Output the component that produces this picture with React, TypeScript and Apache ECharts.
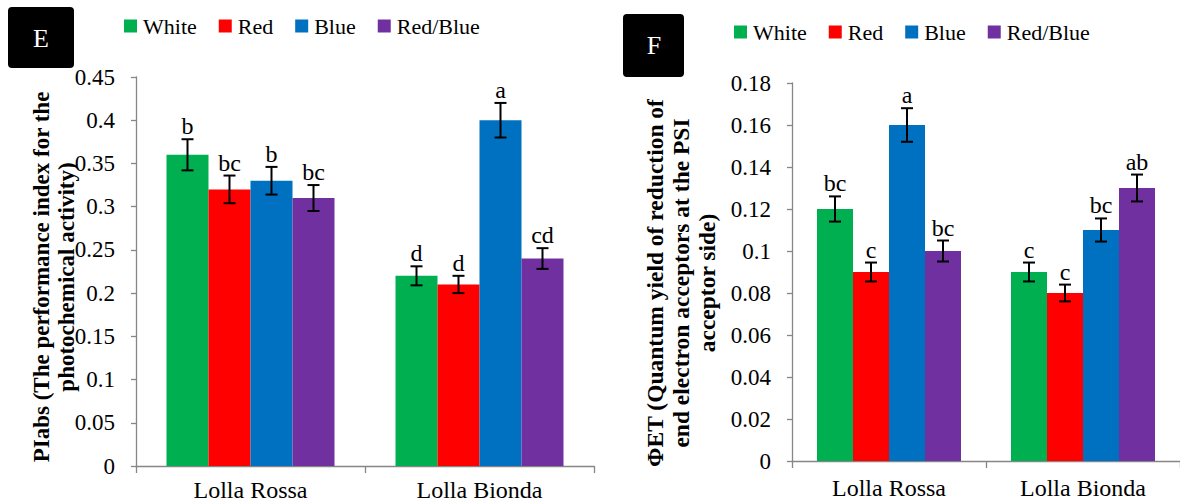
import React, { useEffect, useRef } from "react";
import * as echarts from "echarts";

const categories = ["Lolla Rossa", "Lolla Bionda"];
const treatments = ["White", "Red", "Blue", "Red/Blue"];
const colors = ["#00B050", "#FF0000", "#0070C0", "#7030A0"];

// Panel E: PIabs
const piabsWhite = [0.36, 0.22];
const piabsRed = [0.32, 0.21];
const piabsBlue = [0.33, 0.4];
const piabsRedBlue = [0.31, 0.24];
const piabsErrWhite = [0.018, 0.011];
const piabsErrRed = [0.016, 0.01];
const piabsErrBlue = [0.016, 0.02];
const piabsErrRedBlue = [0.015, 0.012];
const piabsLetWhite = ["b", "d"];
const piabsLetRed = ["bc", "d"];
const piabsLetBlue = ["b", "a"];
const piabsLetRedBlue = ["bc", "cd"];
const piabsTickLabels = ["0", "0.05", "0.1", "0.15", "0.2", "0.25", "0.3", "0.35", "0.4", "0.45"];

// Panel F: PhiET
const phiWhite = [0.12, 0.09];
const phiRed = [0.09, 0.08];
const phiBlue = [0.16, 0.11];
const phiRedBlue = [0.1, 0.13];
const phiErrWhite = [0.006, 0.0045];
const phiErrRed = [0.0045, 0.004];
const phiErrBlue = [0.008, 0.0055];
const phiErrRedBlue = [0.005, 0.0064];
const phiLetWhite = ["bc", "c"];
const phiLetRed = ["c", "c"];
const phiLetBlue = ["a", "bc"];
const phiLetRedBlue = ["bc", "ab"];
const phiTickLabels = ["0", "0.02", "0.04", "0.06", "0.08", "0.1", "0.12", "0.14", "0.16", "0.18"];

const FONT = "Liberation Serif";
const AXIS_GRAY = "#868686";
const BAR_W_E = 42;
const BAR_W_F = 36;

function buildPanel(
  idx: number,
  values: number[][],
  errs: number[][],
  letters: string[][],
  barW: number
) {
  const bars = treatments.map((name, si) => ({
    type: "bar",
    name,
    xAxisIndex: idx,
    yAxisIndex: idx,
    barWidth: barW,
    barGap: "0%",
    data: values[si],
    itemStyle: { color: colors[si] },
    z: 2,
  }));
  const items: number[][] = [];
  const itemLetters: string[] = [];
  treatments.forEach((_, si) => {
    categories.forEach((__, ci) => {
      items.push([ci, si, values[si][ci], errs[si][ci]]);
      itemLetters.push(letters[si][ci]);
    });
  });
  const errorBars = {
    type: "custom",
    xAxisIndex: idx,
    yAxisIndex: idx,
    encode: { x: 0, y: 2 },
    z: 5,
    silent: true,
    data: items,
    renderItem: (params: any, api: any) => {
      const ci = api.value(0);
      const si = api.value(1);
      const v = api.value(2);
      const e = api.value(3);
      const top = api.coord([ci, v + e]);
      const bot = api.coord([ci, v - e]);
      const x = top[0] + (si - 1.5) * barW;
      const cap = 6;
      const ls = { stroke: "#000", lineWidth: 2 };
      return {
        type: "group",
        children: [
          { type: "line", shape: { x1: x, y1: top[1], x2: x, y2: bot[1] }, style: ls },
          { type: "line", shape: { x1: x - cap, y1: top[1], x2: x + cap, y2: top[1] }, style: ls },
          { type: "line", shape: { x1: x - cap, y1: bot[1], x2: x + cap, y2: bot[1] }, style: ls },
          {
            type: "text",
            x,
            y: top[1] - 1,
            style: {
              text: itemLetters[params.dataIndex],
              fontFamily: FONT,
              fontSize: 24,
              fill: "#000",
              align: "center",
              verticalAlign: "bottom",
            },
          },
        ],
      };
    },
  };
  return [...bars, errorBars];
}

export default function App() {
  const ref = useRef<HTMLDivElement>(null);
  useEffect(() => {
    if (!ref.current) return;
    const chart = echarts.init(ref.current, undefined, { renderer: "svg" });
    const axisCommonX = (gi: number, margin: number) => ({
      type: "category",
      gridIndex: gi,
      data: categories,
      axisLine: { lineStyle: { color: AXIS_GRAY, width: 1.3 } },
      axisTick: { show: true, length: 7, lineStyle: { color: AXIS_GRAY, width: 1.3 } },
      axisLabel: { color: "#000", fontFamily: FONT, fontSize: 24, margin, interval: 0 },
    });
    const axisCommonY = (gi: number, labels: string[]) => ({
      type: "value",
      gridIndex: gi,
      min: Number(labels[0]),
      max: Number(labels[labels.length - 1]),
      interval: Number(labels[1]) - Number(labels[0]),
      splitLine: { show: false },
      axisLine: { show: true, lineStyle: { color: AXIS_GRAY, width: 1.3 } },
      axisTick: { show: true, length: 5, lineStyle: { color: AXIS_GRAY, width: 1.3 } },
      axisLabel: {
        color: "#000",
        fontFamily: FONT,
        fontSize: 23,
        margin: 21,
        formatter: (v: number) => {
          const hit = labels.find((l) => Math.abs(Number(l) - v) < 1e-9);
          return hit !== undefined ? hit : String(v);
        },
      },
    });
    const legendCommon = {
      data: treatments,
      icon: "rect",
      itemWidth: 13,
      itemHeight: 13,
      itemGap: 22,
      padding: 0,
      selectedMode: false,
      textStyle: { color: "#000", fontFamily: FONT, fontSize: 22, padding: [0, 0, 0, 1] },
    };
    const option: any = {
      animation: false,
      backgroundColor: "#fff",
      textStyle: { fontFamily: FONT },
      grid: [
        { left: 136, top: 77, width: 458, height: 389 },
        { left: 792, top: 83, width: 392, height: 378 },
      ],
      xAxis: [axisCommonX(0, 12), axisCommonX(1, 15)],
      yAxis: [axisCommonY(0, piabsTickLabels), axisCommonY(1, phiTickLabels)],
      legend: [
        { ...legendCommon, left: 124, top: 15 },
        { ...legendCommon, left: 734, top: 21 },
      ],
      series: [
        ...buildPanel(
          0,
          [piabsWhite, piabsRed, piabsBlue, piabsRedBlue],
          [piabsErrWhite, piabsErrRed, piabsErrBlue, piabsErrRedBlue],
          [piabsLetWhite, piabsLetRed, piabsLetBlue, piabsLetRedBlue],
          BAR_W_E
        ),
        ...buildPanel(
          1,
          [phiWhite, phiRed, phiBlue, phiRedBlue],
          [phiErrWhite, phiErrRed, phiErrBlue, phiErrRedBlue],
          [phiLetWhite, phiLetRed, phiLetBlue, phiLetRedBlue],
          BAR_W_F
        ),
      ],
      graphic: [
        { type: "rect", left: 8, top: 7, shape: { width: 66, height: 61, r: 4 }, style: { fill: "#000" } },
        {
          type: "text",
          x: 41,
          y: 38,
          style: { text: "E", fill: "#fff", fontFamily: FONT, fontSize: 26, align: "center", verticalAlign: "middle" },
        },
        { type: "rect", left: 623, top: 14, shape: { width: 61, height: 63, r: 4 }, style: { fill: "#000" } },
        {
          type: "text",
          x: 654,
          y: 45,
          style: { text: "F", fill: "#fff", fontFamily: FONT, fontSize: 26, align: "center", verticalAlign: "middle" },
        },
        {
          type: "text",
          x: 54,
          y: 277,
          rotation: Math.PI / 2,
          style: {
            text: "PIabs (The performance index for the\nphotochemical activity)",
            fill: "#000",
            fontFamily: FONT,
            fontSize: 23,
            fontWeight: "bold",
            lineHeight: 25,
            align: "center",
            verticalAlign: "middle",
          },
        },
        {
          type: "text",
          x: 681,
          y: 283,
          rotation: Math.PI / 2,
          style: {
            text: "ΦET (Quantum yield of reduction of\nend electron acceptors at the PSI\nacceptor side)",
            fill: "#000",
            fontFamily: FONT,
            fontSize: 23.5,
            fontWeight: "bold",
            lineHeight: 26,
            align: "center",
            verticalAlign: "middle",
          },
        },
      ],
    };
    chart.setOption(option);
    return () => chart.dispose();
  }, []);
  return (
    <div
      ref={ref}
      style={{ position: "absolute", left: 0, top: 0, width: 1180, height: 504 }}
    />
  );
}
